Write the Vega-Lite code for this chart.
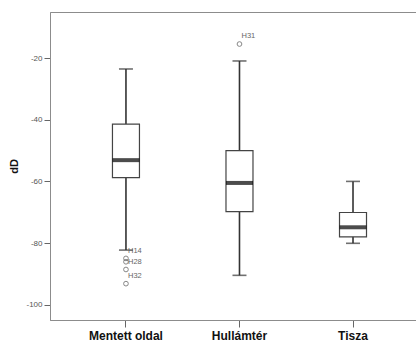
{
  "$schema": "https://vega.github.io/schema/vega-lite/v6.json",
  "width": 366,
  "height": 308,
  "autosize": {"type": "none"},
  "padding": {"left": 50, "top": 12, "right": 0, "bottom": 23},
  "background": "white",
  "config": {
    "font": "Liberation Sans",
    "view": {"stroke": "#8c8c8c", "strokeWidth": 1},
    "axis": {"domainColor": "#8c8c8c", "tickColor": "#666666", "grid": false}
  },
  "datasets": {
    "boxes": [
      {"group": "Mentett oldal", "lower": -82.3, "q1": -58.8, "median": -53.1, "q3": -41.4, "upper": -23.5},
      {"group": "Hullámtér", "lower": -90.5, "q1": -69.8, "median": -60.5, "q3": -50.0, "upper": -20.9},
      {"group": "Tisza", "lower": -80.1, "q1": -78.0, "median": -74.9, "q3": -70.1, "upper": -60.0}
    ],
    "outliers": [
      {"group": "Mentett oldal", "value": -85.0},
      {"group": "Mentett oldal", "value": -86.1},
      {"group": "Mentett oldal", "value": -88.6},
      {"group": "Mentett oldal", "value": -93.2},
      {"group": "Hullámtér", "value": -15.4}
    ],
    "labels": [
      {"group": "Mentett oldal", "value": -82.6, "label": "H14"},
      {"group": "Mentett oldal", "value": -86.1, "label": "H28"},
      {"group": "Mentett oldal", "value": -90.7, "label": "H32"},
      {"group": "Hullámtér", "value": -12.8, "label": "H31"}
    ]
  },
  "encoding": {
    "x": {
      "field": "group",
      "type": "nominal",
      "sort": ["Mentett oldal", "Hullámtér", "Tisza"],
      "scale": {"paddingInner": 0, "paddingOuter": 0.112, "align": 0.755},
      "axis": {
        "title": null,
        "labelAngle": 0,
        "labelFontSize": 12,
        "labelFontWeight": "bold",
        "labelColor": "#111111",
        "labelPadding": 3,
        "tickSize": 7
      }
    }
  },
  "layer": [
    {
      "data": {"name": "boxes"},
      "mark": {"type": "rule", "color": "#333333", "strokeWidth": 1.6},
      "encoding": {
        "y": {
          "field": "lower",
          "type": "quantitative",
          "scale": {"domain": [-105, -5], "nice": false, "zero": false},
          "axis": {
            "title": "dD",
            "titleFontSize": 11,
            "titleFontWeight": "bold",
            "titleColor": "#111111",
            "titlePadding": 6,
            "values": [-100, -80, -60, -40, -20],
            "labelExpr": "replace(datum.label, '\u2212', '-')",
            "labelFontSize": 8,
            "labelColor": "#555555",
            "labelPadding": 2,
            "tickSize": 6
          }
        },
        "y2": {"field": "upper"}
      }
    },
    {
      "data": {"name": "boxes"},
      "mark": {"type": "tick", "color": "#333333", "size": 14, "thickness": 1.6},
      "encoding": {"y": {"field": "lower", "type": "quantitative"}}
    },
    {
      "data": {"name": "boxes"},
      "mark": {"type": "tick", "color": "#333333", "size": 14, "thickness": 1.6},
      "encoding": {"y": {"field": "upper", "type": "quantitative"}}
    },
    {
      "data": {"name": "boxes"},
      "mark": {"type": "bar", "size": 27, "fill": "white", "stroke": "#444444", "strokeWidth": 1.2},
      "encoding": {
        "y": {"field": "q1", "type": "quantitative"},
        "y2": {"field": "q3"}
      }
    },
    {
      "data": {"name": "boxes"},
      "mark": {"type": "tick", "color": "black", "size": 27, "thickness": 4},
      "encoding": {"y": {"field": "median", "type": "quantitative"}}
    },
    {
      "data": {"name": "outliers"},
      "mark": {"type": "point", "shape": "circle", "filled": false, "size": 22, "stroke": "#555555", "strokeWidth": 1},
      "encoding": {"y": {"field": "value", "type": "quantitative"}}
    },
    {
      "data": {"name": "labels"},
      "mark": {"type": "text", "align": "left", "baseline": "middle", "dx": 2, "fontSize": 7.5, "color": "#666666"},
      "encoding": {
        "y": {"field": "value", "type": "quantitative"},
        "text": {"field": "label"}
      }
    }
  ]
}
